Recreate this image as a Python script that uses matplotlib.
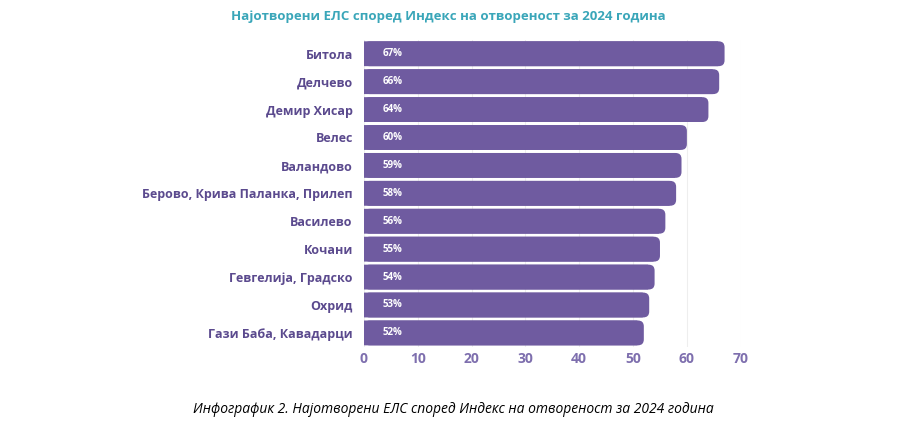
import matplotlib
matplotlib.use("Agg")
import matplotlib.pyplot as plt
from matplotlib.patches import FancyBboxPatch

plt.rcParams['font.family'] = ['Open Sans', 'DejaVu Sans']

municipalities = ['Битола', 'Делчево', 'Демир Хисар', 'Велес', 'Валандово',
                  'Берово, Крива Паланка, Прилеп', 'Василево', 'Кочани',
                  'Гевгелија, Градско', 'Охрид', 'Гази Баба, Кавадарци']
index_values = [67, 66, 64, 60, 59, 58, 56, 55, 54, 53, 52]
x_ticks = [0, 10, 20, 30, 40, 50, 60, 70]

bar_color = '#6f5ba0'
label_color = '#5b4a8e'
title_color = '#3aa6b9'

fig = plt.figure(figsize=(9.19, 4.47), dpi=100)
ax = fig.add_axes([0.396, 0.224, 0.410, 0.687])

ypos = list(range(len(municipalities)))[::-1]
bars = ax.barh(ypos, index_values, height=0.89, color=bar_color, zorder=3,
               linewidth=0)

# rounded right ends; the plain bar keeps the left corners square
for b in bars:
    x, y, w, h = b.get_x(), b.get_y(), b.get_width(), b.get_height()
    ax.add_patch(FancyBboxPatch((x, y), w, h,
                                boxstyle='round,pad=0,rounding_size=1.1',
                                mutation_aspect=0.19, fc=bar_color, ec='none',
                                zorder=2, snap=False))
    b.set_width(w - 1.2)
    b.set_snap(False)

for y, v in zip(ypos, index_values):
    ax.text(3.5, y, f'{v}%', color='white', fontsize=7, fontweight='bold',
            va='center', ha='left', zorder=4)

ax.set_xlim(0, 70)
ax.set_ylim(-0.5, len(municipalities) - 0.5)
ax.set_xticks(x_ticks)
ax.set_yticks(ypos)
ax.set_yticklabels(municipalities)
for s in ax.spines.values():
    s.set_visible(False)
ax.tick_params(length=0)
ax.tick_params(axis='y', pad=8, labelsize=9, labelcolor=label_color)
ax.tick_params(axis='x', pad=4, labelsize=10, labelcolor='#7e6fae')
for t in ax.get_yticklabels() + ax.get_xticklabels():
    t.set_fontweight('bold')
ax.grid(axis='x', color='#eeeeee', linewidth=0.8, zorder=0)

fig.text(0.488, 0.963, 'Најотворени ЕЛС според Индекс на отвореност за 2024 година',
         ha='center', va='center', color=title_color, fontsize=9.5,
         fontweight='bold')
fig.text(0.493, 0.083,
         'Инфографик 2. Најотворени ЕЛС според Индекс на отвореност за 2024 година',
         ha='center', va='center', color='black', fontsize=10, style='italic')

fig.savefig('out.png', dpi=100)
